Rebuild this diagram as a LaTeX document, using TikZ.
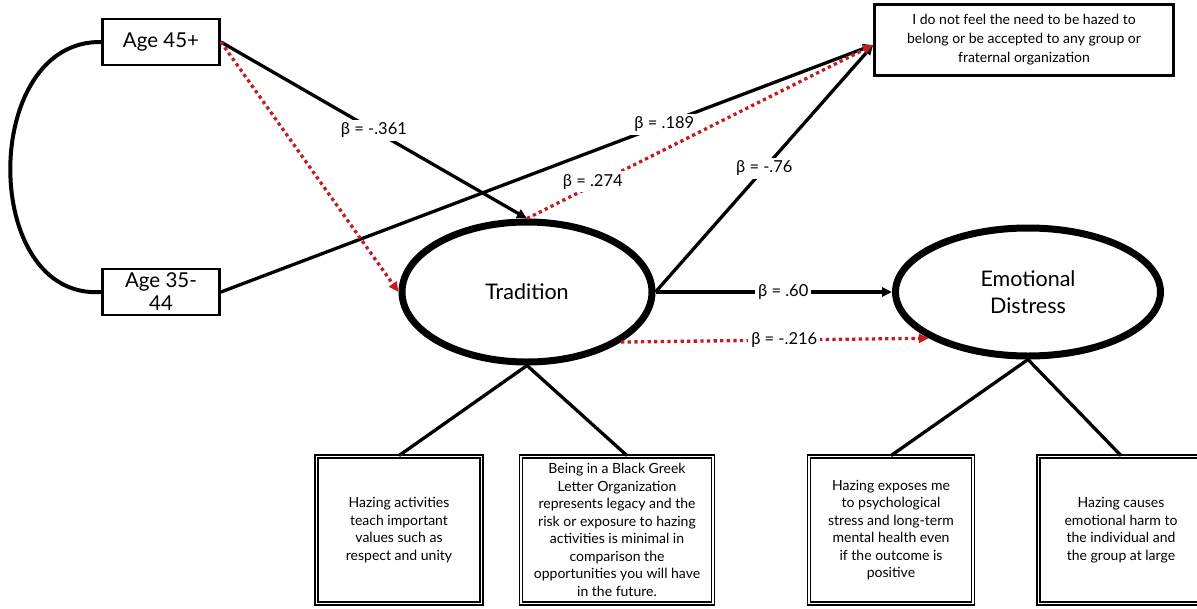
\documentclass[tikz,border=0pt]{standalone}
\usepackage{fontspec}
\setmainfont{Lato}
\usetikzlibrary{arrows.meta,positioning,shapes.geometric}
\definecolor{pathred}{RGB}{192,30,36}
\tikzset{
  >={Triangle[length=10pt,width=9pt]},
  agebox/.style={draw,line width=2.8pt,minimum width=117pt,minimum height=46pt,inner sep=0pt,align=center,font=\fontsize{20.5}{23}\selectfont},
  latent/.style={draw,ellipse,line width=7pt,align=center,font=\fontsize{21.5}{27}\selectfont},
  itembox/.style={draw,double,line width=1.8pt,double distance=1.3pt,minimum height=147pt,inner sep=0pt,align=center,font=\fontsize{14}{17.5}\selectfont},
  outbox/.style={draw,line width=2.8pt,minimum width=299pt,minimum height=71pt,inner sep=0pt,align=center,font=\fontsize{14}{19}\selectfont},
  coef/.style={fill=white,text=black,inner sep=3pt,font=\fontsize{16.5}{18}\selectfont},
  solidpath/.style={line width=3.3pt},
  redpath/.style={color=pathred,line width=3.3pt,dash pattern=on 3.3pt off 3.3pt}
}
\begin{document}
\begin{tikzpicture}[x=1pt,y=-1pt]
   \useasboundingbox (0,0) rectangle (1197,608);
   % observed predictors
   \node [agebox] (age45) at (161,42) {Age 45+};
   \node [agebox] (age35) at (161,292) {Age 35-\\44};
   % latent factors
   \node [latent,minimum width=250pt,minimum height=140pt] (trad) at (527,292) {Tradition};
   \node [latent,minimum width=265pt,minimum height=128pt] (emo) at (1028,292) {Emotional\\Distress};
   % outcome item
   \node [outbox] (need) at (1024,40) {I do not feel the need to be hazed to\\belong or be accepted to any group or\\fraternal organization};
   % indicator items
   \node [itembox,minimum width=165pt] (item1) at (399,530) {Hazing activities\\teach important\\values such as\\respect and unity};
   \node [itembox,minimum width=192pt] (item2) at (617,530) {Being in a Black Greek\\Letter Organization\\represents legacy and the\\risk or exposure to hazing\\activities is minimal in\\comparison the\\opportunities you will have\\in the future.};
   \node [itembox,minimum width=164pt] (item3) at (891,530) {Hazing exposes me\\to psychological\\stress and long-term\\mental health even\\if the outcome is\\positive};
   \node [itembox,minimum width=165pt] (item4) at (1121,530) {Hazing causes\\emotional harm to\\the individual and\\the group at large};

   \coordinate (needin) at ([yshift=-5pt]need.west);
   \coordinate (tradout) at (trad.332);
   \coordinate (emoin) at (emo.205);

   \draw [line width=4pt] (age45.west) .. controls (-20,40) and (-20,300) .. (age35.west);

   \path [solidpath]
    (trad.south) edge (item1.north)
                 edge ([xshift=10pt]item2.north)
    (emo.south)  edge (item3.north)
                 edge (item4.north);

   \path [solidpath,->]
    (age45.east) edge node [coef,pos=.5] {β = -.361} (trad.north)
    (age35.east) edge node [coef,pos=.68] {β = .189} (needin)
    (trad.east)  edge node [coef,pos=.5] {β = -.76} (needin)
                 edge node [coef,pos=.54] {β = .60} (emo.west);

   \path [redpath,->]
    (age45.east) edge (trad.west)
    (trad.north) edge node [coef,pos=.19,yshift=4pt] {β = .274} (needin)
    (tradout)    edge node [coef,pos=.53] {β = -.216} (emoin);
\end{tikzpicture}
\end{document}
